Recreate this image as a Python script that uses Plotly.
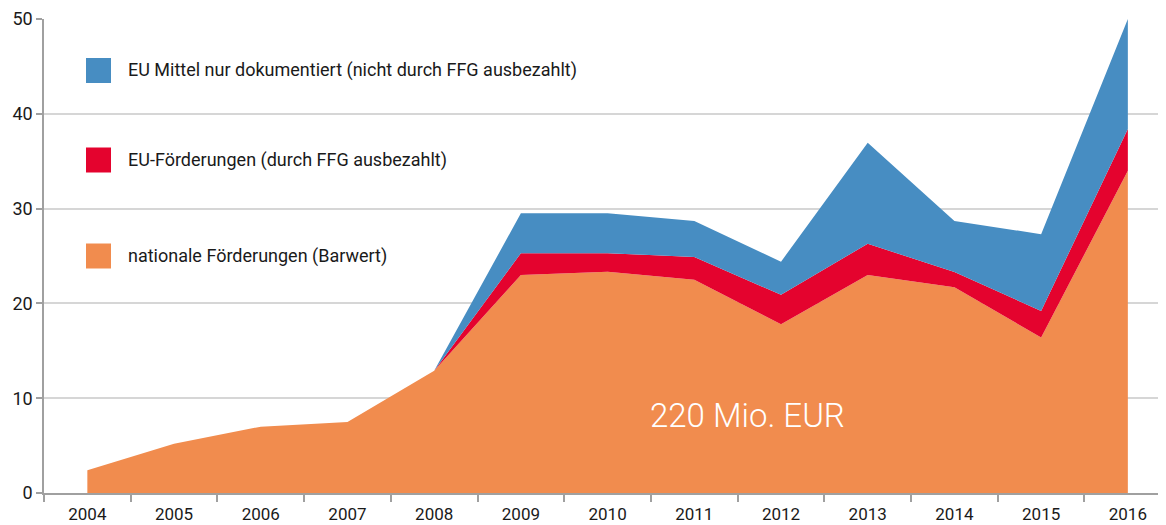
import plotly.graph_objects as go

years = ["2004", "2005", "2006", "2007", "2008", "2009", "2010",
         "2011", "2012", "2013", "2014", "2015", "2016"]
national = [2.4, 5.2, 7.0, 7.5, 12.9, 23.0, 23.35, 22.5, 17.8, 23.0, 21.7, 16.4, 34.0]
eu_ffg = [0, 0, 0, 0, 0, 2.3, 1.95, 2.4, 3.1, 3.3, 1.6, 2.8, 4.4]
eu_doc = [0, 0, 0, 0, 0, 4.2, 4.2, 3.8, 3.5, 10.65, 5.4, 8.1, 11.6]

names = ["nationale Förderungen (Barwert)",
         "EU-Förderungen (durch FFG ausbezahlt)",
         "EU Mittel nur dokumentiert (nicht durch FFG ausbezahlt)"]
colors = ["#F18C4E", "#E4032E", "#478DC2"]
series = [national, eu_ffg, eu_doc]

# page body has an 8px default margin; compensate so the chart fills 1166x525 screen
OFF = 8
SW, SH = 1166, 525
W, H = SW - OFF, SH - OFF
# plot area in screen pixels
PX0, PX1, PY0, PY1 = 44, 1166, 19, 493
ML, MR, MT, MB = PX0 - OFF, SW - PX1, PY0 - OFF, SH - PY1
PW, PH = PX1 - PX0, PY1 - PY0


def px(x):
    return (x - PX0) / PW


def py(y):
    return (PY1 - y) / PH


fig = go.Figure()
for name, vals, col in zip(names, series, colors):
    fig.add_trace(go.Scatter(
        x=years, y=vals, name=name, mode="lines",
        stackgroup="one", line=dict(width=0, color=col),
        fillcolor=col, showlegend=False, hoverinfo="skip"))

FONT = "Roboto"

# manual legend (top to bottom: blue, red, orange)
legend_rows = [(names[2], colors[2], 70.5), (names[1], colors[1], 160), (names[0], colors[0], 256)]
for txt, col, cy in legend_rows:
    fig.add_shape(type="rect", xref="paper", yref="paper",
                  x0=px(86), x1=px(111), y0=py(cy + 12.5), y1=py(cy - 12.5),
                  fillcolor=col, line=dict(width=0))
    fig.add_annotation(xref="paper", yref="paper", x=px(126), y=py(cy),
                       text=txt, showarrow=False, xanchor="left", yanchor="middle",
                       font=dict(family=FONT, size=18, color="#1a1a1a"))

fig.add_annotation(xref="paper", yref="paper", x=px(747), y=py(415),
                   text="220 Mio. EUR", showarrow=False, xanchor="center", yanchor="middle",
                   font=dict(family=FONT, size=33, color="white", weight=300))

fig.update_layout(
    width=W, height=H,
    margin=dict(l=ML, r=MR, t=MT, b=MB, pad=0, autoexpand=False),
    paper_bgcolor="white", plot_bgcolor="white",
    font=dict(family=FONT, size=17, color="#1a1a1a"),
    xaxis=dict(type="category", range=[-0.5, 12.44], tickson="boundaries",
               ticks="outside", ticklen=7, tickcolor="#a0a0a0", tickwidth=1.5,
               showline=True, linecolor="#a0a0a0", linewidth=1.5,
               showgrid=False, zeroline=False, automargin=False,
               ticklabelstandoff=5, tickfont=dict(size=17)),
    yaxis=dict(range=[0, 50], tickvals=[0, 10, 20, 30, 40, 50],
               ticks="outside", ticklen=6, tickcolor="#a0a0a0", tickwidth=1.5,
               showline=True, linecolor="#a0a0a0", linewidth=1.5,
               showgrid=True, gridcolor="#d6d6d6", gridwidth=1.5,
               zeroline=False, automargin=False, tickfont=dict(size=18)),
)

fig.write_html("out.html")
